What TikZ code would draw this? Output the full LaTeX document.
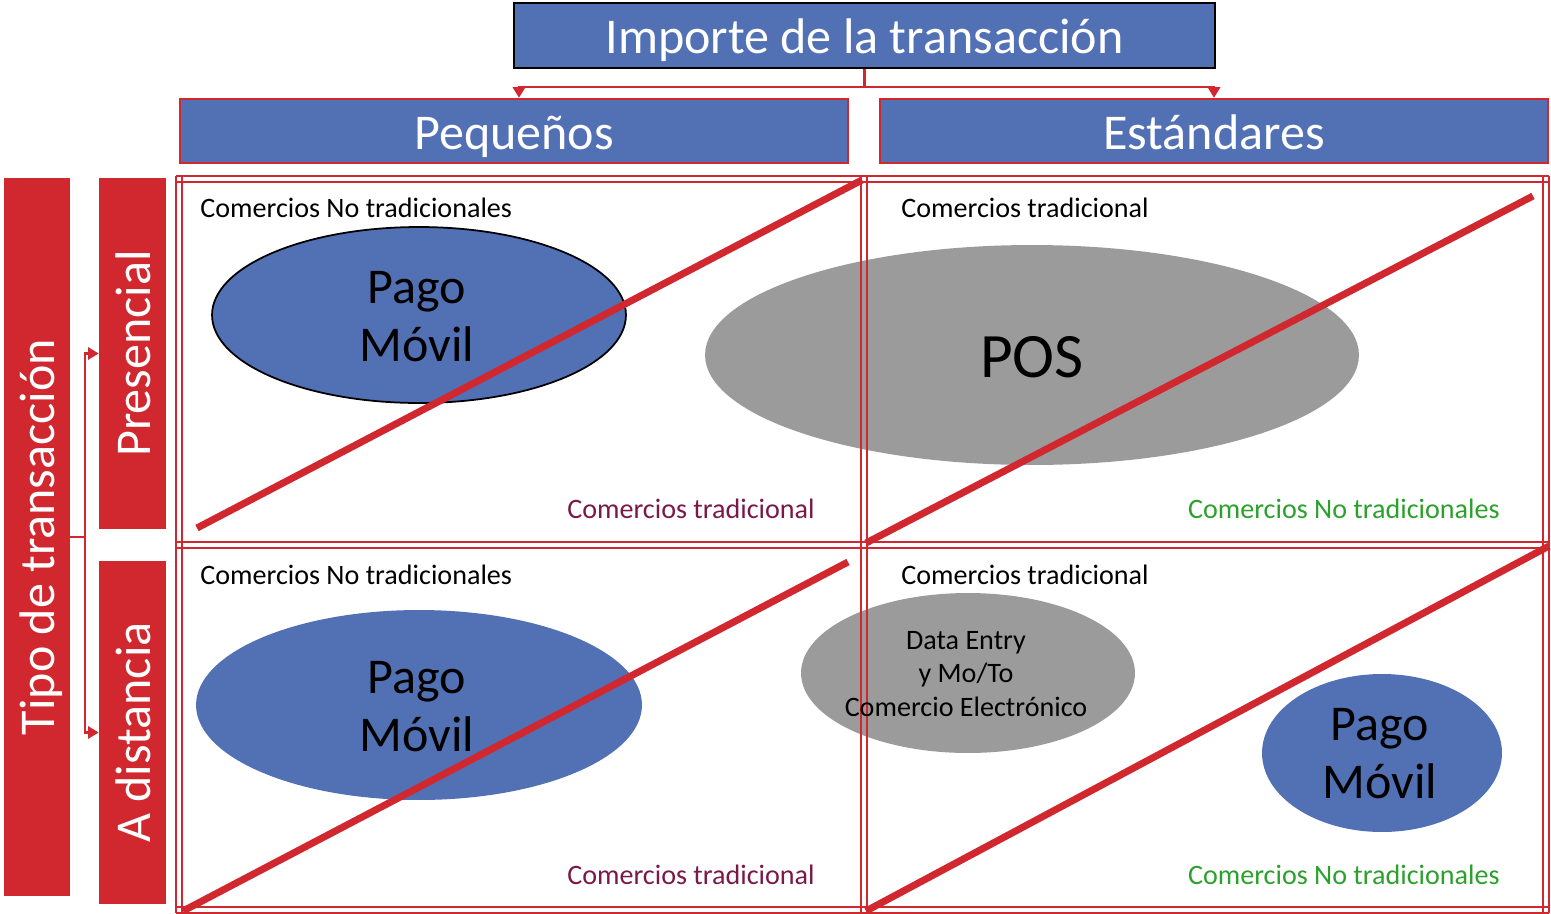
\documentclass[tikz,border=0pt]{standalone}
\usepackage{fontspec}
\setmainfont{Carlito}
\usetikzlibrary{arrows.meta,shapes.geometric}
\definecolor{mblue}{RGB}{82,112,180}
\definecolor{mred}{RGB}{209,40,47}
\definecolor{mgray}{RGB}{155,155,155}
\definecolor{mmag}{RGB}{122,24,74}
\definecolor{mgreen}{RGB}{44,160,44}
\begin{document}
\begin{tikzpicture}[x=0.02cm,y=-0.02cm,
  hdr/.style={fill=mblue,text=white,inner sep=0,text height=21pt,text depth=0pt,font=\fontsize{28.5}{34}\selectfont},
  redbox/.style={fill=mred,text=white,inner sep=0,rotate=90,text height=21pt,text depth=1pt,font=\fontsize{28.5}{34}\selectfont},
  conn/.style={draw=mred,line width=1.2pt},
  tip/.style={-{Triangle[length=6pt,width=7pt]}},
  gl/.style={draw=mred,line width=1.1pt},
  diag/.style={draw=mred,line width=4pt},
  ell/.style={ellipse,inner sep=0},
  big/.style={inner sep=0,align=center,font=\fontsize{28.5}{33}\selectfont},
  lbl/.style={inner sep=0,font=\fontsize{16}{19}\selectfont}]
\useasboundingbox (0,0) rectangle (1551,913);

% header boxes
\node[hdr,draw=black,line width=1.2pt,minimum width=14.02cm,minimum height=1.3cm] (imp) at (864.5,35.5) {Importe de la transacción};
\node[hdr,draw=mred,line width=1.4pt,minimum width=13.36cm,minimum height=1.28cm] (peq) at (514,131) {Pequeños};
\node[hdr,draw=mred,line width=1.4pt,minimum width=13.36cm,minimum height=1.28cm] (est) at (1214,131) {Estándares};

% left boxes
\node[redbox,minimum width=14.36cm,minimum height=1.32cm] (tipo) at (37,537) {Tipo de transacción};
\node[redbox,minimum width=7.02cm,minimum height=1.34cm] (pres) at (132.5,353.5) {Presencial};
\node[redbox,minimum width=6.86cm,minimum height=1.34cm] (adis) at (132.5,732.5) {A distancia};

% connectors
\draw[conn] (imp.south) -- ++(0,18) coordinate (tb);
\draw[conn,tip] (tb) -| ([xshift=0.1cm]peq.north);
\draw[conn,tip] (tb) -| (est.north);
\draw[conn] (tipo.south) -- ++(15,0) coordinate (lb);
\draw[conn,tip] (lb) |- (pres.north);
\draw[conn,tip] (lb) |- (adis.north);

% ellipses
\node[ell,fill=mgray,minimum width=13.08cm,minimum height=4.4cm] (e2) at (1032,355) {};
\node[ell,fill=mgray,minimum width=6.68cm,minimum height=3.2cm] (e4) at (968,673) {};
\node[ell,fill=mblue,draw=black,line width=1pt,minimum width=8.28cm,minimum height=3.52cm] (e1) at (419,315) {};
\node[ell,fill=mblue,minimum width=8.92cm,minimum height=3.8cm] (e3) at (419,705) {};
\node[ell,fill=mblue,minimum width=4.8cm,minimum height=3.16cm] (e5) at (1382,753) {};

% grid
\foreach \x in {176,182,861,867,1543,1549} \draw[gl] (\x,176) -- (\x,913);
\foreach \y in {176,182,542,548,907,913} \draw[gl] (176,\y) -- (1549,\y);

% diagonals
\draw[diag] (197,528) -- (862,180);
\draw[diag] (866,543) -- (1533,196);
\draw[diag] (183,911) -- (848,562);
\draw[diag] (866,911) -- (1549,546);

% ellipse texts
\node[big] (t1) at (417,317) {Pago\\Móvil};
\node[big,font=\fontsize{36}{40}\selectfont] (t2) at (1032,357) {POS};
\node[big] (t3) at (417,707) {Pago\\Móvil};
\node[big,font=\fontsize{16}{19}\selectfont] (t4) at (966,674) {Data Entry\\y Mo/To\\Comercio Electrónico};
\node[big] (t5) at (1380,754) {Pago\\Móvil};

% cell labels
\node[lbl,anchor=base west] (l1) at (200,217) {Comercios No tradicionales};
\node[lbl,anchor=base west] (l2) at (901,217) {Comercios tradicional};
\node[lbl,anchor=base east,text=mmag] (l3) at (815,518) {Comercios tradicional};
\node[lbl,anchor=base east,text=mgreen] (l4) at (1500,518) {Comercios No tradicionales};
\node[lbl,anchor=base west] (l5) at (200,584) {Comercios No tradicionales};
\node[lbl,anchor=base west] (l6) at (901,584) {Comercios tradicional};
\node[lbl,anchor=base east,text=mmag] (l7) at (815,884) {Comercios tradicional};
\node[lbl,anchor=base east,text=mgreen] (l8) at (1500,884) {Comercios No tradicionales};
\end{tikzpicture}
\end{document}
